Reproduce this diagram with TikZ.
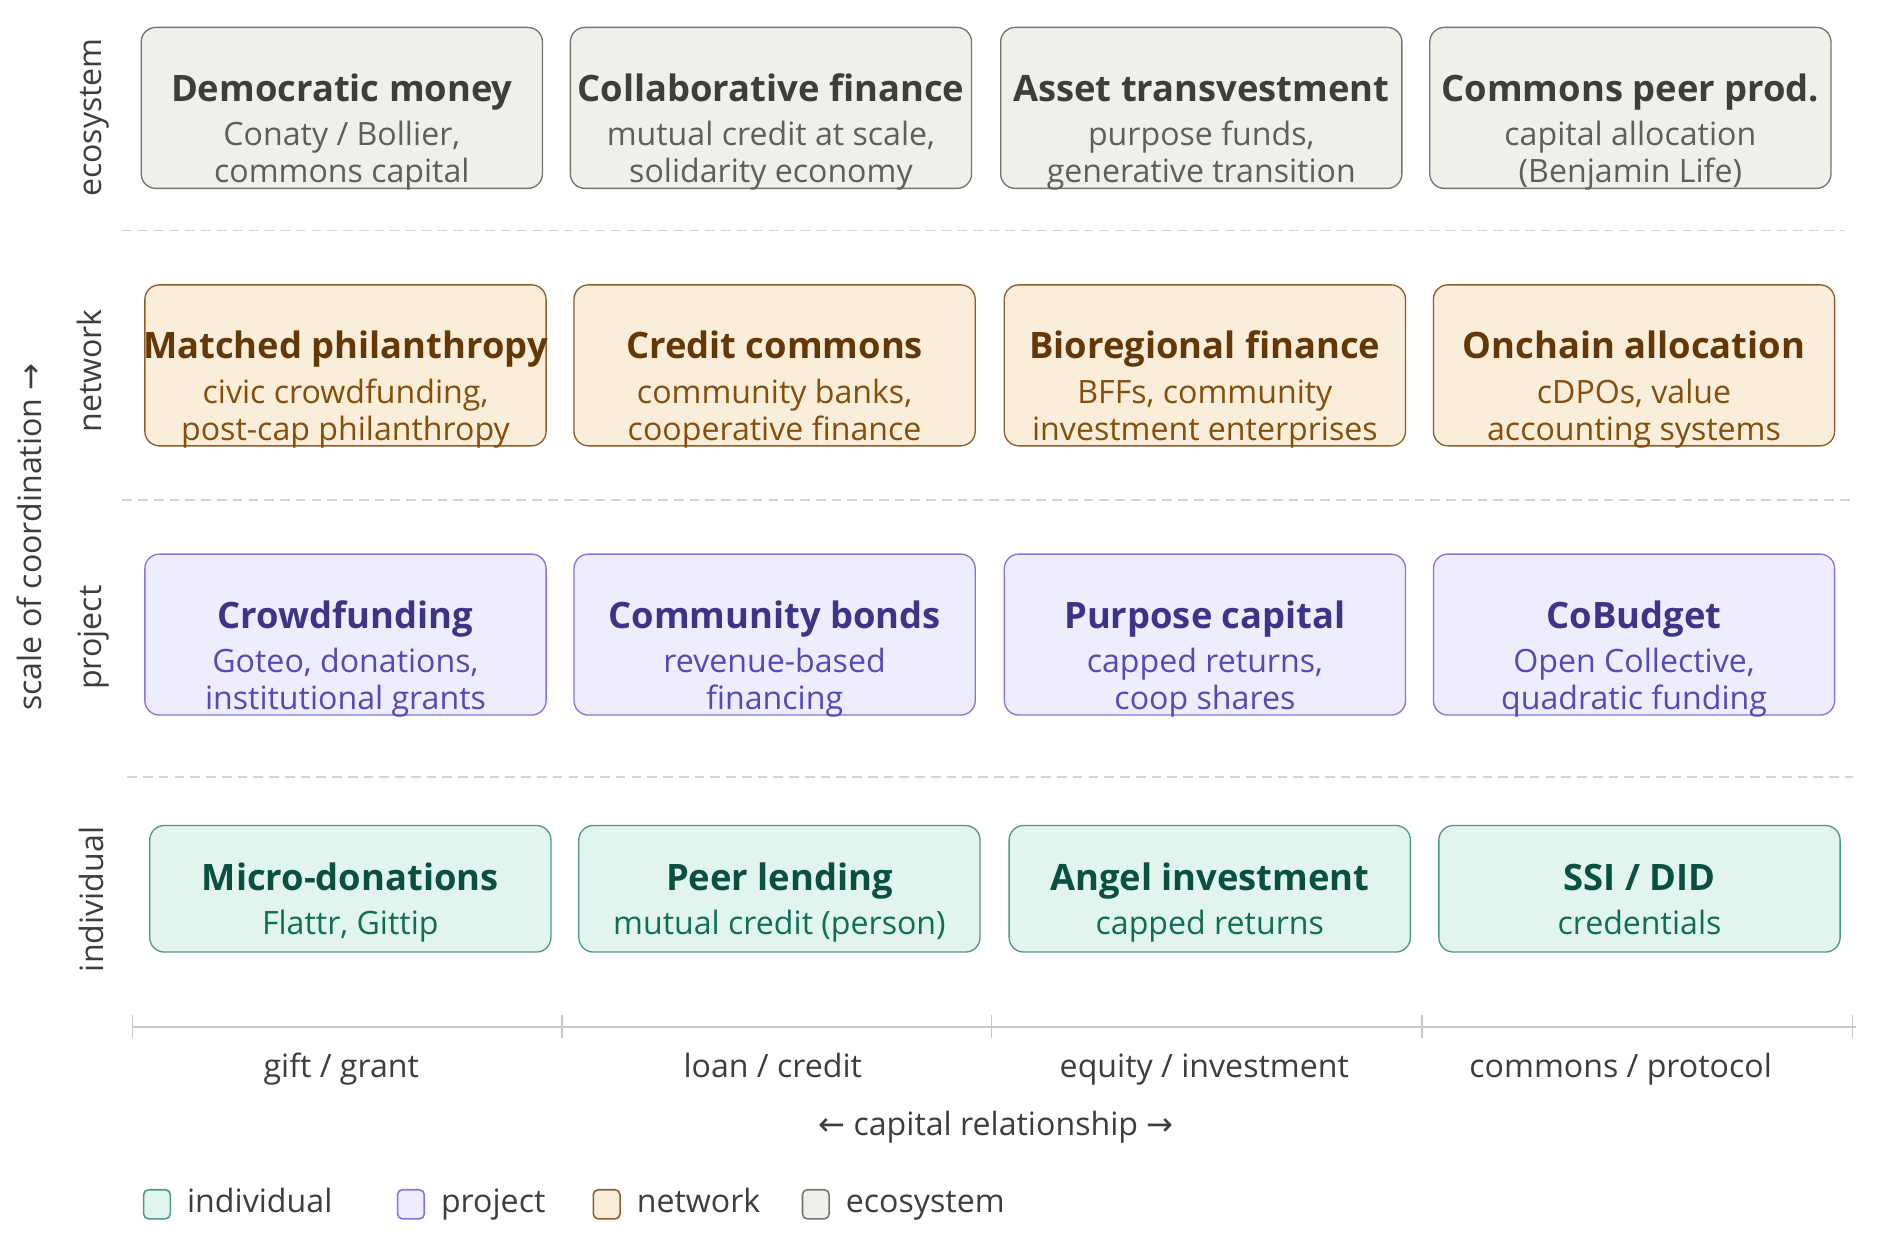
\documentclass[tikz,border=0pt]{standalone}
\usepackage{fontspec}
\setmainfont{Open Sans}
\newfontfamily\arrowfont{DejaVu Sans}

\definecolor{ecofill}{HTML}{F0EFEA}
\definecolor{ecodraw}{HTML}{75746F}
\definecolor{ecohead}{HTML}{3D3D3A}
\definecolor{ecosub}{HTML}{5F5E5A}
\definecolor{netfill}{HTML}{FAEEDA}
\definecolor{netdraw}{HTML}{8E5E2A}
\definecolor{nethead}{HTML}{633806}
\definecolor{netsub}{HTML}{854F0B}
\definecolor{projfill}{HTML}{EEEDFE}
\definecolor{projdraw}{HTML}{7F77DD}
\definecolor{projhead}{HTML}{3C3489}
\definecolor{projsub}{HTML}{534AB7}
\definecolor{indfill}{HTML}{E1F5EE}
\definecolor{inddraw}{HTML}{4F9A83}
\definecolor{indhead}{HTML}{085041}
\definecolor{indsub}{HTML}{0F6E56}
\definecolor{axisgray}{HTML}{C9C9C9}
\definecolor{dashgray}{HTML}{D4D4D4}
\definecolor{labelgray}{HTML}{3D3D3A}

% title line + description lines of one cell
\newcommand{\cell}[2]{{\fontsize{30}{30.4}\selectfont\bfseries\color{\headcol}\rule{0pt}{24pt}#1}\\[6.3pt]#2\rule[-8pt]{0pt}{8pt}}

\begin{document}
\begin{tikzpicture}
    [
    x=1pt, y=-1pt,
    cell/.style={rectangle, rounded corners=12pt, inner sep=0pt, minimum width=331pt, minimum height=132.8pt, line width=1.1pt},
    ecobox/.style={cell, fill=ecofill, draw=ecodraw},
    netbox/.style={cell, fill=netfill, draw=netdraw},
    projbox/.style={cell, fill=projfill, draw=projdraw},
    indbox/.style={cell, fill=indfill, draw=inddraw, minimum height=104.4pt},
    celltext/.style={align=center, inner sep=0pt, font=\fontsize{26.5}{30.4}\selectfont, yshift=-20.25pt},
    ecotext/.style={celltext, text=ecosub, execute at begin node={\gdef\headcol{ecohead}}},
    nettext/.style={celltext, text=netsub, execute at begin node={\gdef\headcol{nethead}}},
    projtext/.style={celltext, text=projsub, execute at begin node={\gdef\headcol{projhead}}},
    indtext/.style={celltext, text=indsub, yshift=8.85pt, execute at begin node={\gdef\headcol{indhead}}},
    rowname/.style={font=\fontsize{26.5}{30}\selectfont, text=labelgray, rotate=90, anchor=base, inner sep=0pt},
    axisname/.style={font=\fontsize{26.5}{30}\selectfont, text=labelgray, anchor=base, inner sep=0pt},
    legendname/.style={font=\fontsize{26.5}{30}\selectfont, text=labelgray, inner sep=0pt, text height=20pt, text depth=7pt, xshift=13pt},
    swatch/.style={rectangle, rounded corners=4pt, minimum width=22pt, minimum height=24pt, inner sep=0pt, line width=1.3pt, label={[legendname]right:#1}},
    sep/.style={draw=dashgray, line width=1.2pt, dash pattern=on 8pt off 5pt},
    axis/.style={draw=axisgray, line width=1.5pt},
    tick/.style={draw=axisgray, line width=1.2pt}
    ]
    \useasboundingbox (0,0) rectangle (1560,1028.7);

    % ecosystem
    \node (eco1) at (282,89) [ecobox, label={[ecotext]center:{\cell{Democratic money}{Conaty / Bollier,\\commons capital}}}] {};
    \node (eco2) at (636,89) [ecobox, label={[ecotext]center:{\cell{Collaborative finance}{mutual credit at scale,\\solidarity economy}}}] {};
    \node (eco3) at (991,89) [ecobox, label={[ecotext]center:{\cell{Asset transvestment}{purpose funds,\\generative transition}}}] {};
    \node (eco4) at (1345,89) [ecobox, label={[ecotext]center:{\cell{Commons peer prod.}{capital allocation\\(Benjamin Life)}}}] {};

    % network
    \node (net1) at (285,301.4) [netbox, label={[nettext]center:{\cell{Matched philanthropy}{civic crowdfunding,\\post-cap philanthropy}}}] {};
    \node (net2) at (639,301.4) [netbox, label={[nettext]center:{\cell{Credit commons}{community banks,\\cooperative finance}}}] {};
    \node (net3) at (994,301.4) [netbox, label={[nettext]center:{\cell{Bioregional finance}{BFFs, community\\investment enterprises}}}] {};
    \node (net4) at (1348,301.4) [netbox, label={[nettext]center:{\cell{Onchain allocation}{cDPOs, value\\accounting systems}}}] {};

    % project
    \node (proj1) at (285,523.5) [projbox, label={[projtext]center:{\cell{Crowdfunding}{Goteo, donations,\\institutional grants}}}] {};
    \node (proj2) at (639,523.5) [projbox, label={[projtext]center:{\cell{Community bonds}{revenue-based\\financing}}}] {};
    \node (proj3) at (994,523.5) [projbox, label={[projtext]center:{\cell{Purpose capital}{capped returns,\\coop shares}}}] {};
    \node (proj4) at (1348,523.5) [projbox, label={[projtext]center:{\cell{CoBudget}{Open Collective,\\quadratic funding}}}] {};

    % individual
    \node (ind1) at (289,733.2) [indbox, label={[indtext]center:{\cell{Micro-donations}{Flattr, Gittip}}}] {};
    \node (ind2) at (643,733.2) [indbox, label={[indtext]center:{\cell{Peer lending}{mutual credit (person)}}}] {};
    \node (ind3) at (998,733.2) [indbox, label={[indtext]center:{\cell{Angel investment}{capped returns}}}] {};
    \node (ind4) at (1352.5,733.2) [indbox, label={[indtext]center:{\cell{SSI / DID}{credentials}}}] {};

    % separators
    \draw [sep] (101,190) -- (1522,190);
    \draw [sep] (101,412.5) -- (1526,412.5);
    \draw [sep] (105,641) -- (1529,641);

    % row names
    \node (reco) at (84,97) [rowname] {ecosystem};
    \node (rnet) at (84,306) [rowname] {network};
    \node (rproj) at (84,526) [rowname] {project};
    \node (rind) at (85.5,742) [rowname] {individual};
    \node (rscale) at (34.4,443) [rowname] {scale of coordination {\arrowfont →}};

    % capital axis
    \draw [axis] (109,847) -- (1531,847);
    \foreach \x in {109.5,463.5,818,1173,1528}
      \draw [tick] (\x,837) -- (\x,856);
    \node (cgift) at (281.5,888.6) [axisname] {gift / grant};
    \node (cloan) at (637.5,888.6) [axisname] {loan / credit};
    \node (cequity) at (993.5,888.6) [axisname] {equity / investment};
    \node (ccommons) at (1337,888.6) [axisname] {commons / protocol};
    \node (caxis) at (821.5,936.5) [axisname] {{\arrowfont ←} capital relationship {\arrowfont →}};

    % legend
    \node (lind) at (129.5,993.5) [swatch=individual, fill=indfill, draw=inddraw] {};
    \node (lproj) at (339,993.5) [swatch=project, fill=projfill, draw=projdraw] {};
    \node (lnet) at (500.5,993.5) [swatch=network, fill=netfill, draw=netdraw] {};
    \node (leco) at (673,993.5) [swatch=ecosystem, fill=ecofill, draw=ecodraw] {};
  \end{tikzpicture}
\end{document}
